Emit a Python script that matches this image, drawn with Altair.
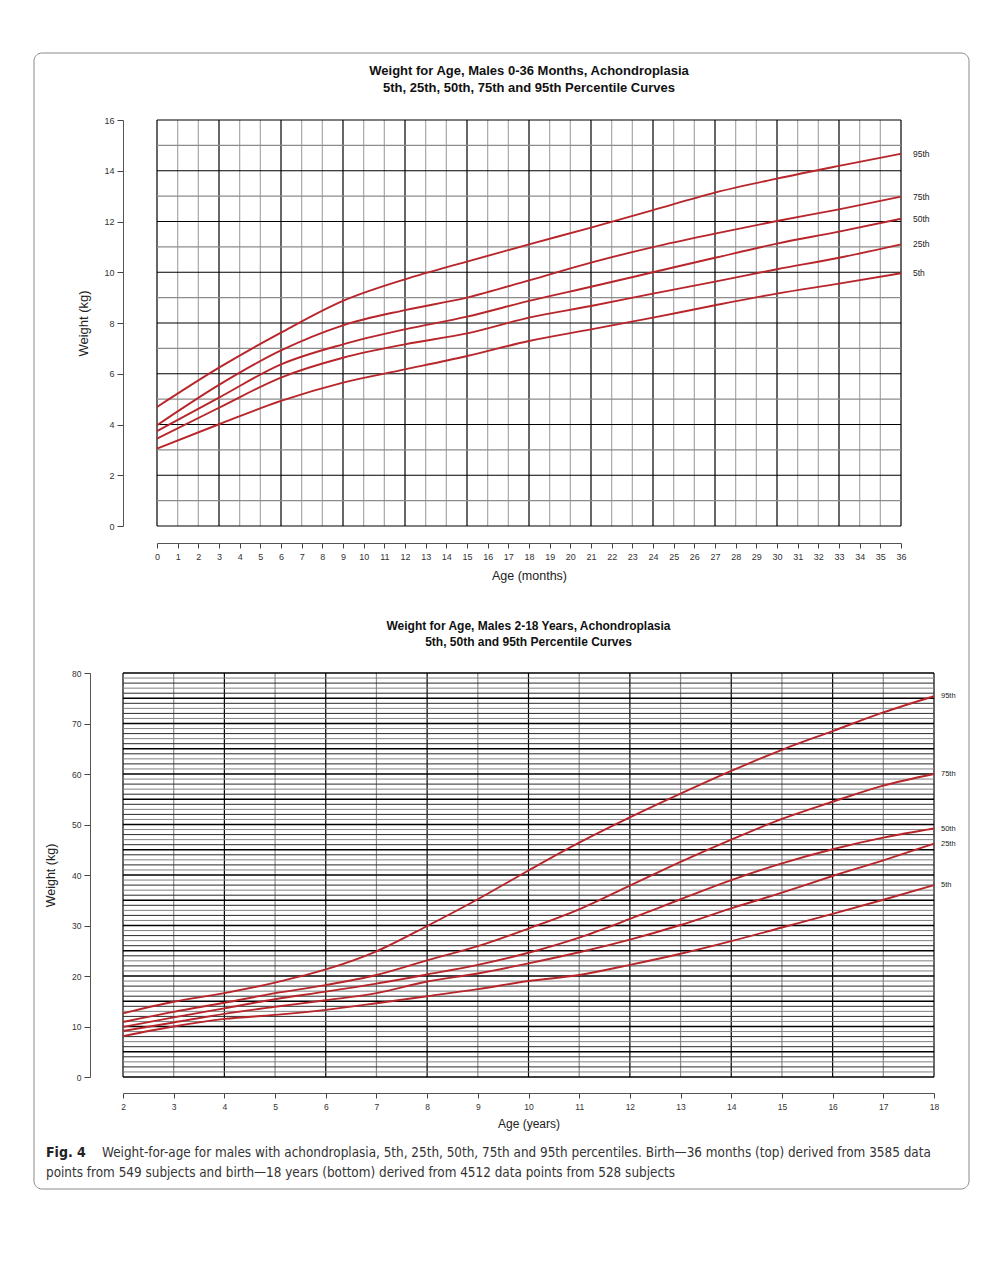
import altair as alt
import pandas as pd

# ---------------- data ----------------
months = [0, 3, 6, 9, 12, 15, 18, 21, 24, 27, 30, 33, 36]
top_p95 = [4.69, 6.24, 7.62, 8.87, 9.72, 10.42, 11.10, 11.76, 12.45, 13.14, 13.69, 14.19, 14.67]
top_p75 = [3.97, 5.56, 6.92, 7.91, 8.51, 9.00, 9.68, 10.38, 10.99, 11.52, 12.02, 12.48, 12.98]
top_p50 = [3.74, 5.06, 6.37, 7.16, 7.75, 8.25, 8.87, 9.43, 10.00, 10.57, 11.13, 11.60, 12.11]
top_p25 = [3.44, 4.66, 5.85, 6.63, 7.16, 7.59, 8.21, 8.67, 9.16, 9.63, 10.12, 10.57, 11.10]
top_p5 = [3.05, 4.01, 4.93, 5.65, 6.17, 6.70, 7.29, 7.75, 8.21, 8.70, 9.16, 9.55, 9.96]

years = [2, 3, 4, 5, 6, 7, 8, 9, 10, 11, 12, 13, 14, 15, 16, 17, 18]
bot_p95 = [12.6, 14.9, 16.6, 18.7, 21.3, 24.9, 29.9, 35.2, 40.9, 46.4, 51.4, 56.1, 60.6, 64.8, 68.5, 72.2, 75.4]
bot_p75 = [10.9, 12.9, 14.7, 16.6, 18.2, 20.2, 23.1, 25.9, 29.4, 33.2, 37.9, 42.6, 47.0, 51.1, 54.5, 57.7, 60.0]
bot_p50 = [9.9, 11.8, 13.6, 15.4, 16.9, 18.5, 20.3, 22.2, 24.6, 27.6, 31.3, 35.2, 39.0, 42.3, 45.1, 47.4, 49.2]
bot_p25 = [9.1, 10.8, 12.5, 13.9, 15.2, 16.6, 18.9, 20.5, 22.5, 24.7, 27.2, 30.1, 33.4, 36.5, 39.8, 42.9, 46.2]
bot_p5 = [8.1, 10.0, 11.5, 12.3, 13.3, 14.6, 16.0, 17.4, 19.0, 20.2, 22.2, 24.4, 26.9, 29.6, 32.3, 35.1, 38.0]

pct_names = ["95th", "75th", "50th", "25th", "5th"]

top_title = ["Weight for Age, Males 0-36 Months, Achondroplasia",
             "5th, 25th, 50th, 75th and 95th Percentile Curves"]
bot_title = ["Weight for Age, Males 2-18 Years, Achondroplasia",
             "5th, 50th and 95th Percentile Curves"]

caption_bold = "Fig. 4"
caption_line1 = ("Weight-for-age for males with achondroplasia, 5th, 25th, 50th, 75th and 95th percentiles. "
                 "Birth\u201436 months (top) derived from 3585 data")
caption_line2 = ("points from 549 subjects and birth\u201418 years (bottom) derived from 4512 data points "
                 "from 528 subjects")

FONT = "Liberation Sans"
CAPFONT = "Liberation Sans Narrow, DejaVu Sans Condensed, sans-serif"
RED = "#b8262b"

# ---------------- tables ----------------
def long_table(xs, series, xname):
    rows = []
    for name, vals in zip(pct_names, series):
        for x, v in zip(xs, vals):
            rows.append({xname: x, "w": v, "pct": name})
    return pd.DataFrame(rows)

top_df = long_table(months, [top_p95, top_p75, top_p50, top_p25, top_p5], "age")
bot_df = long_table(years, [bot_p95, bot_p75, bot_p50, bot_p25, bot_p5], "age")

top_lab = pd.DataFrame({"age": [months[-1]] * 5,
                        "w": [top_p95[-1], top_p75[-1], top_p50[-1], top_p25[-1], top_p5[-1]],
                        "pct": pct_names})
bot_lab = pd.DataFrame({"age": [years[-1]] * 5,
                        "w": [bot_p95[-1], bot_p75[-1], bot_p50[-1], bot_p25[-1], bot_p5[-1]],
                        "pct": pct_names})

top_v = pd.DataFrame({"age": list(range(0, 37))})
top_v["c"] = ["#000000" if a % 3 == 0 else "#a8a8a8" for a in top_v["age"]]
top_v["y0"], top_v["y1"] = 0, 16
top_h = pd.DataFrame({"w": list(range(0, 17))})
top_h["c"] = ["#000000" if w % 2 == 0 else "#8c8c8c" for w in top_h["w"]]
top_h["x0"], top_h["x1"] = 0, 36

bot_v = pd.DataFrame({"age": list(range(2, 19))})
bot_v["c"] = ["#000000" if a % 2 == 0 else "#8c8c8c" for a in bot_v["age"]]
bot_v["y0"], bot_v["y1"] = 0, 80
bot_h = pd.DataFrame({"w": list(range(0, 81))})
bot_h["c"] = ["#000000" if w % 5 == 0 else ("#2a2a2a" if w % 2 == 0 else "#808080") for w in bot_h["w"]]
bot_h["sw"] = [1.4 if w % 5 == 0 else 1.0 for w in bot_h["w"]]
bot_h["x0"], bot_h["x1"] = 2, 18

# ---------------- top panel ----------------
xs_top = alt.Scale(domain=[0, 36], range=[34, 778], nice=False, zero=False)
ys_top = alt.Scale(domain=[0, 16], nice=False, zero=False)
axis_common = dict(grid=False, domainColor="#555", tickColor="#444", labelColor="#333",
                   titleColor="#222", labelFont=FONT, titleFont=FONT, titleFontWeight="normal")
xax_top = alt.Axis(values=list(range(37)), offset=17, tickSize=5, labelFontSize=9, labelPadding=4,
                   labelOverlap=False, labelFlush=False, title="Age (months)", titleFontSize=12.5,
                   titlePadding=8, **axis_common)
yax_top = alt.Axis(values=list(range(0, 17, 2)), offset=0, tickSize=6, labelFontSize=9, labelPadding=3,
                   title="Weight (kg)", titleFontSize=13, titlePadding=13, **axis_common)

t_vgrid = alt.Chart(top_v).mark_rule(strokeWidth=1.2).encode(
    x=alt.X("age:Q", scale=xs_top, axis=xax_top),
    y=alt.Y("y0:Q", scale=ys_top, axis=yax_top), y2="y1:Q",
    color=alt.Color("c:N", scale=None))
t_hgrid = alt.Chart(top_h).mark_rule(strokeWidth=1.2).encode(
    y=alt.Y("w:Q", scale=ys_top, axis=yax_top),
    x=alt.X("x0:Q", scale=xs_top, axis=xax_top), x2="x1:Q",
    color=alt.Color("c:N", scale=None))
t_lines = alt.Chart(top_df).mark_line(color=RED, strokeWidth=1.9, interpolate="monotone").encode(
    x=alt.X("age:Q", scale=xs_top, axis=xax_top),
    y=alt.Y("w:Q", scale=ys_top, axis=yax_top),
    detail="pct:N")
t_text = alt.Chart(top_lab).mark_text(align="left", dx=12, font=FONT, fontSize=8.5, color="#222").encode(
    x=alt.X("age:Q", scale=xs_top, axis=xax_top),
    y=alt.Y("w:Q", scale=ys_top, axis=yax_top),
    text="pct:N")

top = alt.layer(t_vgrid, t_hgrid, t_lines, t_text).properties(
    width=778, height=406,
    title=alt.TitleParams(text=top_title, font=FONT, fontSize=13, fontWeight="bold", color="#111",
                          anchor="middle", offset=21, dx=17, lineHeight=17))

# ---------------- bottom panel ----------------
xs_bot = alt.Scale(domain=[2, 18], nice=False, zero=False)
ys_bot = alt.Scale(domain=[0, 80], nice=False, zero=False)
xax_bot = alt.Axis(values=list(range(2, 19)), offset=16, tickSize=5, labelFontSize=8.5, labelPadding=4,
                   labelOverlap=False, labelFlush=False, title="Age (years)", titleFontSize=12,
                   titlePadding=8, **axis_common)
yax_bot = alt.Axis(values=list(range(0, 81, 10)), offset=33, tickSize=6, labelFontSize=8.5, labelPadding=3,
                   title="Weight (kg)", titleFontSize=12.5, titlePadding=14, **axis_common)

# frame, panel heading and caption (decoration, placed relative to this panel's plot area)
frame_df = pd.DataFrame({"k": [0]})
frame = alt.Chart(frame_df).mark_rect(fill="#ffffff", fillOpacity=0, stroke="#8a8a8a", strokeWidth=1,
                                      cornerRadius=8).encode(
    x=alt.value(-89), x2=alt.value(846), y=alt.value(-620), y2=alt.value(516))
head_df = pd.DataFrame({"t": bot_title, "px": [405.5, 405.5], "py": [-47, -31]})
b_head = alt.Chart(head_df).mark_text(align="center", baseline="middle", font=FONT, fontSize=12,
                                      fontWeight="bold", color="#111").encode(
    x=alt.X("px:Q", scale=None), y=alt.Y("py:Q", scale=None), text="t:N")
cap_df = pd.DataFrame({"t": [caption_bold, caption_line1, caption_line2],
                       "px": [-77, -21, -77], "py": [484, 484, 504]})
cap_bold = alt.Chart(cap_df.iloc[[0]]).mark_text(align="left", baseline="alphabetic", font=CAPFONT,
                                                 fontSize=14, fontWeight="bold", color="#222").encode(
    x=alt.X("px:Q", scale=None), y=alt.Y("py:Q", scale=None), text="t:N")
cap_norm = alt.Chart(cap_df.iloc[[1, 2]]).mark_text(align="left", baseline="alphabetic", font=CAPFONT,
                                                    fontSize=13.4, color="#333").encode(
    x=alt.X("px:Q", scale=None), y=alt.Y("py:Q", scale=None), text="t:N")

b_vgrid = alt.Chart(bot_v).mark_rule(strokeWidth=1.2).encode(
    x=alt.X("age:Q", scale=xs_bot, axis=xax_bot),
    y=alt.Y("y0:Q", scale=ys_bot, axis=yax_bot), y2="y1:Q",
    color=alt.Color("c:N", scale=None))
b_hgrid = alt.Chart(bot_h).mark_rule().encode(
    y=alt.Y("w:Q", scale=ys_bot, axis=yax_bot),
    x=alt.X("x0:Q", scale=xs_bot, axis=xax_bot), x2="x1:Q",
    color=alt.Color("c:N", scale=None),
    strokeWidth=alt.StrokeWidth("sw:Q", scale=None))
b_lines = alt.Chart(bot_df).mark_line(color=RED, strokeWidth=1.9, interpolate="monotone").encode(
    x=alt.X("age:Q", scale=xs_bot, axis=xax_bot),
    y=alt.Y("w:Q", scale=ys_bot, axis=yax_bot),
    detail="pct:N")
b_text = alt.Chart(bot_lab).mark_text(align="left", dx=7, font=FONT, fontSize=7.5, color="#222").encode(
    x=alt.X("age:Q", scale=xs_bot, axis=xax_bot),
    y=alt.Y("w:Q", scale=ys_bot, axis=yax_bot),
    text="pct:N")

bottom = alt.layer(frame, b_vgrid, b_hgrid, b_lines, b_text, b_head, cap_bold, cap_norm).properties(
    width=811, height=404)

chart = alt.vconcat(top, bottom, spacing=147, bounds="flush").properties(
    padding={"left": 25, "top": 44, "right": 10, "bottom": 10}
).configure_view(stroke=None)

chart.save("out.html", embed_options={"renderer": "svg", "actions": False})
